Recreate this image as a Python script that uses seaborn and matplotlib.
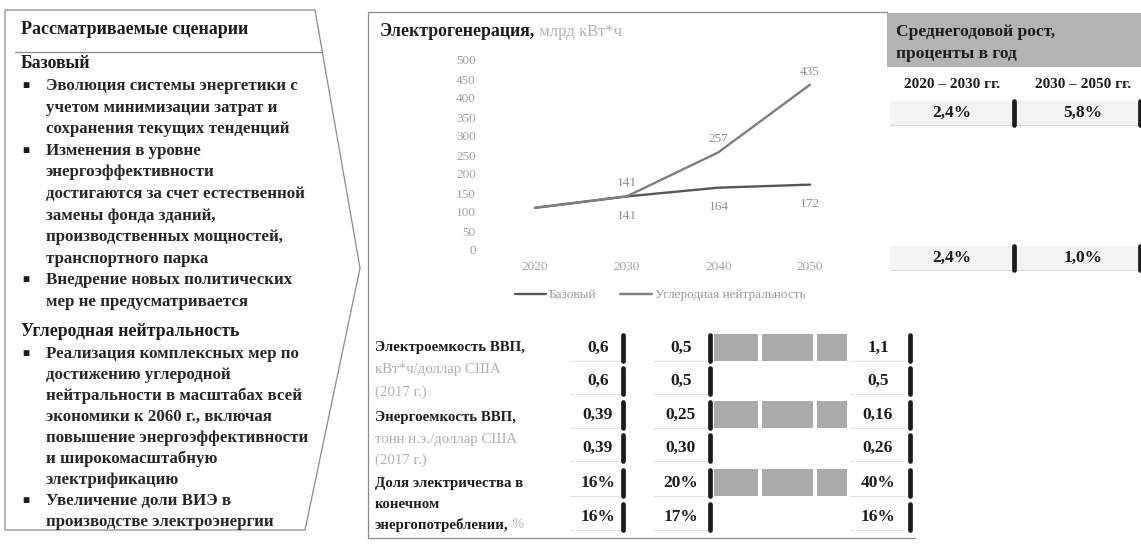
import numpy as np
import pandas as pd
import matplotlib
matplotlib.use("Agg")
import matplotlib.pyplot as plt
import seaborn as sns
from matplotlib.patches import Polygon, Rectangle

sns.set_style("white")
plt.rcParams["font.family"] = ["Liberation Serif", "DejaVu Serif"]

# ---------------- data ----------------
years = [2020, 2030, 2040, 2050]
scenarios = ["Базовый", "Углеродная нейтральность"]
gen_base = [111, 141, 164, 172]
gen_neutral = [111, 141, 257, 435]

growth_periods = ["2020 – 2030 гг.", "2030 – 2050 гг."]
growth_neutral = [2.4, 5.8]
growth_base = [2.4, 1.0]

elec_intensity_neutral = [0.6, 0.5, 1.1]
elec_intensity_base = [0.6, 0.5, 0.5]
energy_intensity_neutral = [0.39, 0.25, 0.16]
energy_intensity_base = [0.39, 0.30, 0.26]
elec_share_neutral = [16, 20, 40]
elec_share_base = [16, 17, 16]

panel_title = "Рассматриваемые сценарии"
base_header = "Базовый"
base_lines = [
    ("■", "Эволюция системы энергетики с"),
    ("", "учетом минимизации затрат и"),
    ("", "сохранения текущих тенденций"),
    ("■", "Изменения в уровне"),
    ("", "энергоэффективности"),
    ("", "достигаются за счет естественной"),
    ("", "замены фонда зданий,"),
    ("", "производственных мощностей,"),
    ("", "транспортного парка"),
    ("■", "Внедрение новых политических"),
    ("", "мер не предусматривается"),
]
neutral_header = "Углеродная нейтральность"
neutral_lines = [
    ("■", "Реализация комплексных мер по"),
    ("", "достижению углеродной"),
    ("", "нейтральности в масштабах всей"),
    ("", "экономики к 2060 г., включая"),
    ("", "повышение энергоэффективности"),
    ("", "и широкомасштабную"),
    ("", "электрификацию"),
    ("■", "Увеличение доли ВИЭ в"),
    ("", "производстве электроэнергии"),
]

# ---------------- figure ----------------
W, H = 1141, 545
fig = plt.figure(figsize=(W / 100, H / 100), dpi=100)
fig.patch.set_facecolor("white")


def fx(px):
    return px / W


def fy(py):
    return 1 - py / H


# pixel-coordinate canvas for the frames, tables and text
bg = fig.add_axes([0, 0, 1, 1])
bg.set_xlim(0, W)
bg.set_ylim(H, 0)
bg.axis("off")

DARK = "#1c1c1c"
GREY_TXT = "#a8a8a8"
FRAME = "#8a8a8a"

# ---- left panel: scenario descriptions ----
bg.add_patch(Polygon([(5, 10), (315, 10), (360, 268), (305, 530), (5, 530)],
                     closed=True, fill=False, edgecolor=FRAME, lw=0.9))
bg.plot([15, 322], [52, 52], color=FRAME, lw=0.9)
bg.text(21, 30, panel_title, fontsize=13, fontweight="bold", color=DARK, va="center")
bg.text(21, 63, base_header, fontsize=12.8, fontweight="bold", color=DARK, va="center")
for i, (b, s) in enumerate(base_lines):
    y = 86 + i * 21.6
    if b:
        bg.text(22, y, b, fontsize=8.5, color=DARK, va="center")
    bg.text(46, y, s, fontsize=12.2, fontweight="bold", color="#262626", va="center")
bg.text(21, 331, neutral_header, fontsize=12.8, fontweight="bold", color=DARK, va="center")
for i, (b, s) in enumerate(neutral_lines):
    y = 354 + i * 21
    if b:
        bg.text(22, y, b, fontsize=8.5, color=DARK, va="center")
    bg.text(46, y, s, fontsize=12.2, fontweight="bold", color="#262626", va="center")

# ---- middle panel frame ----
bg.plot([368, 368], [12, 538], color=FRAME, lw=0.9)
bg.plot([368, 887], [12, 12], color=FRAME, lw=0.9)
bg.plot([368, 915], [538, 538], color=FRAME, lw=0.9)

t = bg.text(380, 32, "Электрогенерация,", fontsize=12.8, fontweight="bold",
            color=DARK, va="center")
bg.annotate(" млрд кВт*ч", xy=(1, 0.5), xycoords=t, fontsize=12,
            color="#b4b4b4", va="center")

# ---- line chart ----
df = pd.DataFrame({
    "Год": years * 2,
    "Значение": gen_base + gen_neutral,
    "Сценарий": [scenarios[0]] * len(years) + [scenarios[1]] * len(years),
})
ax = fig.add_axes([fx(480), fy(250), fx(865) - fx(480), fy(60) - fy(250)])
ax.set_facecolor("none")
palette = {scenarios[0]: "#555555", scenarios[1]: "#7e7e7e"}
sns.lineplot(data=df, x="Год", y="Значение", hue="Сценарий", palette=palette,
             linewidth=1.7, ax=ax)
ax.set_xlim(2014, 2056)
ax.set_ylim(0, 500)
ax.set_yticks(range(0, 501, 50))
ax.set_xticks(years)
ax.tick_params(axis="y", length=0, labelsize=9.5, labelcolor="#a0a0a0", pad=3)
ax.tick_params(axis="x", length=0, labelsize=9.5, labelcolor="#a0a0a0", pad=8)
ax.set_xlabel("")
ax.set_ylabel("")
sns.despine(ax=ax, left=True, bottom=True)
ax.grid(False)

for yr, vb, vn in zip(years[1:], gen_base[1:], gen_neutral[1:]):
    ax.annotate(f"{vn}", (yr, vn), xytext=(0, 9.5), textcoords="offset points",
                ha="center", va="center", fontsize=9.5, color="#8f8f8f")
    ax.annotate(f"{vb}", (yr, vb), xytext=(0, -14), textcoords="offset points",
                ha="center", va="center", fontsize=9.5, color="#8f8f8f")

handles, labels = ax.get_legend_handles_labels()
ax.legend(handles, labels, loc="center", bbox_to_anchor=(fx(660), fy(295)),
          bbox_transform=fig.transFigure, ncol=2, frameon=False, fontsize=9.5,
          labelcolor="#9a9a9a", handlelength=2.4, handletextpad=0.2,
          columnspacing=1.8)

# ---- bottom table ----
metric_rows = [
    (elec_intensity_neutral, "{:.1f}"),
    (elec_intensity_base, "{:.1f}"),
    (energy_intensity_neutral, "{:.2f}"),
    (energy_intensity_base, "{:.2f}"),
    (elec_share_neutral, "{:.0f}%"),
    (elec_share_base, "{:.0f}%"),
]
row_y = [348, 381, 415, 448, 483, 517]
val_x = [598, 681, 878]
bracket_x = [623, 710, 910]
seg_x = [(714, 758), (762, 813), (817, 847)]

for r, ((vals, fmt), y) in enumerate(zip(metric_rows, row_y)):
    shaded = r % 2 == 0
    if shaded:
        for x0, x1 in seg_x:
            bg.add_patch(Rectangle((x0, y - 14), x1 - x0, 27,
                                   facecolor="#aaaaaa", edgecolor="none"))
    for x, v in zip(val_x, vals):
        bg.text(x, y, fmt.format(v).replace(".", ","), fontsize=12.5,
                fontweight="bold", color=DARK, ha="center", va="center")
        bg.plot([x - 28, x + 26], [y + 13, y + 13], color="#e4e4e4", lw=0.8)
    for x in bracket_x:
        bg.plot([x, x], [y - 13, y + 13], color=DARK, lw=3.4,
                solid_capstyle="round")

label_lines = [
    (348, "Электроемкость ВВП,", True),
    (370, "кВт*ч/доллар США", False),
    (392, "(2017 г.)", False),
    (418, "Энергоемкость ВВП,", True),
    (439, "тонн н.э./доллар США", False),
    (460, "(2017 г.)", False),
    (483, "Доля электричества в", True),
    (504, "конечном", True),
]
for y, s, bold in label_lines:
    bg.text(375, y, s, fontsize=10.7, fontweight="bold" if bold else "normal",
            color=DARK if bold else "#b0b0b0", va="center")
t2 = bg.text(375, 525, "энергопотреблении,", fontsize=10.7, fontweight="bold",
             color=DARK, va="center")
bg.annotate(" %", xy=(1, 0.5), xycoords=t2, fontsize=10, color="#b0b0b0",
            va="center")

# ---- right panel: average annual growth ----
bg.add_patch(Rectangle((887, 13), W - 887, 54, facecolor="#b3b3b3",
                       edgecolor="none"))
bg.text(896, 32, "Среднегодовой рост,", fontsize=12.5, fontweight="bold",
        color=DARK, va="center")
bg.text(896, 54, "проценты в год", fontsize=12.5, fontweight="bold",
        color=DARK, va="center")
col_x = [952, 1083]
for x, p in zip(col_x, growth_periods):
    bg.text(x, 84, p, fontsize=11, fontweight="bold", color=DARK,
            ha="center", va="center")

for y, vals in zip([113, 258], [growth_neutral, growth_base]):
    bg.add_patch(Rectangle((890, y - 12), W - 890, 24, facecolor="#f3f3f3",
                           edgecolor="none"))
    bg.plot([890, W], [y + 12, y + 12], color="#dcdcdc", lw=0.8)
    for x, v in zip([952, 1083], vals):
        bg.text(x, y, f"{v:.1f}%".replace(".", ","), fontsize=12.5,
                fontweight="bold", color=DARK, ha="center", va="center")
    for x in [1014, 1140]:
        bg.plot([x, x], [y - 12, y + 12], color=DARK, lw=3.4,
                solid_capstyle="round")

fig.savefig("out.png", dpi=100, facecolor="white")
